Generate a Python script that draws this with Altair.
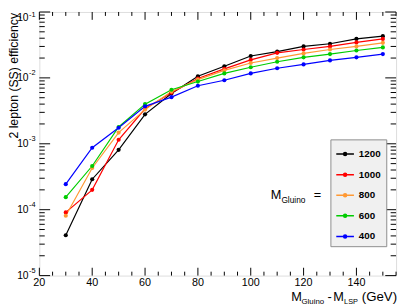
import altair as alt
import pandas as pd

FONT = "Liberation Sans"

# ---------------- data ----------------
mass_diff = [30, 40, 50, 60, 70, 80, 90, 100, 110, 120, 130, 140, 150]
series_names = ["1200", "1000", "800", "600", "400"]
series_colors = ["#000000", "#ff0000", "#ff9933", "#00cc00", "#0000ff"]
eff_1200 = [4.1e-5, 2.9e-4, 8.1e-4, 2.8e-3, 5.8e-3, 1.06e-2, 1.5e-2, 2.15e-2, 2.5e-2, 3.0e-2, 3.3e-2, 3.9e-2, 4.3e-2]
eff_1000 = [9.1e-5, 2.0e-4, 1.15e-3, 3.4e-3, 5.95e-3, 9.8e-3, 1.37e-2, 1.88e-2, 2.4e-2, 2.7e-2, 3.0e-2, 3.45e-2, 3.9e-2]
eff_800 = [8.1e-5, 4.3e-4, 1.48e-3, 3.3e-3, 6.2e-3, 9.4e-3, 1.3e-2, 1.68e-2, 2.0e-2, 2.35e-2, 2.7e-2, 3.0e-2, 3.4e-2]
eff_600 = [1.55e-4, 4.6e-4, 1.8e-3, 4.0e-3, 6.6e-3, 8.8e-3, 1.17e-2, 1.45e-2, 1.76e-2, 2.05e-2, 2.3e-2, 2.6e-2, 2.9e-2]
eff_400 = [2.44e-4, 8.7e-4, 1.75e-3, 3.7e-3, 5.1e-3, 7.6e-3, 9.2e-3, 1.17e-2, 1.4e-2, 1.6e-2, 1.84e-2, 2.05e-2, 2.3e-2]
all_eff = [eff_1200, eff_1000, eff_800, eff_600, eff_400]

x_major = [20, 40, 60, 80, 100, 120, 140]
x_labels = ["20", "40", "60", "80", "100", "120", "140"]
x_minor = [25, 30, 35, 45, 50, 55, 65, 70, 75, 85, 90, 95, 105, 110, 115, 125, 130, 135, 145, 150, 155]
y_exponents = [-5, -4, -3, -2, -1]
y_major = [1e-5, 1e-4, 1e-3, 1e-2, 1e-1]
y_minor_factors = [2, 3, 4, 5, 6, 7, 8, 9]

# ---------------- tables ----------------
rows = []
for name, vals in zip(series_names, all_eff):
    for xv, yv in zip(mass_diff, vals):
        rows.append({"dm": xv, "eff": yv, "mass": name})
df = pd.DataFrame(rows)

df_xmaj = pd.DataFrame({"v": x_major, "lab": x_labels})
df_xmin = pd.DataFrame({"v": x_minor})
df_ymaj = pd.DataFrame({"v": y_major, "base": ["10"] * len(y_major),
                        "exp": [str(e) for e in y_exponents]})
df_ylab_low = df_ymaj.iloc[:-1]
df_ylab_top = df_ymaj.iloc[-1:]
y_minor = [f * m for m in y_major[:-1] for f in y_minor_factors]
df_ymin = pd.DataFrame({"v": y_minor})

W, H = 364, 269
xs = alt.Scale(domain=[20, 155], nice=False, zero=False)
ys = alt.Scale(type="log", domain=[1e-5, 1e-1], nice=False)
cs = alt.Scale(domain=series_names, range=series_colors)

def xrule(d, y1, y2):
    return alt.Chart(d).mark_rule(color="black", strokeWidth=1).encode(
        x=alt.X("v:Q", scale=xs, axis=None), y=alt.value(y1), y2=alt.value(y2))

def yrule(d, x1, x2):
    return alt.Chart(d).mark_rule(color="black", strokeWidth=1).encode(
        y=alt.Y("v:Q", scale=ys, axis=None), x=alt.value(x1), x2=alt.value(x2))

ticks = [
    xrule(df_xmaj, H, H - 8), xrule(df_xmin, H, H - 4),
    xrule(df_xmaj, 0, 8), xrule(df_xmin, 0, 4),
    yrule(df_ymaj, 0, 11), yrule(df_ymin, 0, 5.5),
    yrule(df_ymaj, W, W - 11), yrule(df_ymin, W, W - 5.5),
]

legend_path = ("M-1,0L1,0M-0.17,0A0.17,0.17,0,1,0,0.17,0A0.17,0.17,0,1,0,-0.17,0Z"
               "M-0.07,0A0.07,0.07,0,1,0,0.07,0A0.07,0.07,0,1,0,-0.07,0Z")

lines = alt.Chart(df).mark_line(strokeWidth=1.2).encode(
    x=alt.X("dm:Q", scale=xs, axis=None),
    y=alt.Y("eff:Q", scale=ys, axis=None),
    color=alt.Color("mass:N", scale=cs, legend=alt.Legend(
        title=None, orient="none", legendX=297, legendY=130,
        fillColor="#f0f0f0", strokeColor="#8c8c8c", padding=5,
        symbolType=legend_path, symbolSize=324, symbolStrokeWidth=1.5,
        labelFont=FONT, labelFontWeight="bold", labelFontSize=10,
        labelColor="black", labelOffset=4, rowPadding=6)),
)
points = alt.Chart(df).mark_circle(size=18, opacity=1).encode(
    x=alt.X("dm:Q", scale=xs, axis=None),
    y=alt.Y("eff:Q", scale=ys, axis=None),
    color=alt.Color("mass:N", scale=cs, legend=None),
)

xlab = alt.Chart(df_xmaj).mark_text(font=FONT, fontSize=11, baseline="middle",
                                    align="center", color="black").encode(
    x=alt.X("v:Q", scale=xs, axis=None), y=alt.value(H + 8), text="lab:N")

def ylabels(d, shift, exp_shift):
    base = alt.Chart(d).mark_text(font=FONT, fontSize=10.5, baseline="middle",
                                  align="right", dy=shift, color="black").encode(
        y=alt.Y("v:Q", scale=ys, axis=None), x=alt.value(-11), text="base:N")
    exp = alt.Chart(d).mark_text(font=FONT, fontSize=7.5, baseline="middle",
                                 align="left", dy=exp_shift, color="black").encode(
        y=alt.Y("v:Q", scale=ys, axis=None), x=alt.value(-10.5), text="exp:N")
    return [base, exp]

def label(txt, x, y, size, align="left", angle=0):
    kw = dict(font=FONT, fontSize=size, align=align, baseline="alphabetic", color="black")
    if angle:
        kw["angle"] = angle
    return alt.Chart(pd.DataFrame({"t": [txt]})).mark_text(**kw).encode(
        x=alt.value(x), y=alt.value(y), text="t:N")

titles = [
    label("2 lepton (SS) efficiency", -22, 1, 12.5, align="right", angle=270),
    label("M", 257, 295, 13),
    label("Gluino", 267.5, 298, 8),
    label("-", 294, 295, 13),
    label("M", 300, 295, 13),
    label("LSP", 311, 298, 7.5),
    label("(GeV)", 365, 295, 13.5, align="right"),
    label("M", 236, 191, 13),
    label("Gluino", 247, 194.5, 8.5),
    label("=", 280, 191, 13),
]

chart = alt.layer(*ticks, lines, points, xlab,
                  *ylabels(df_ylab_low, 0, -4.5), *ylabels(df_ylab_top, 6, 3),
                  *titles).properties(
    width=W, height=H,
    padding={"left": 32, "top": 1, "right": 3, "bottom": 30},
    autosize=alt.AutoSizeParams(type="none"),
).configure_view(stroke="black", strokeWidth=1).configure(background="white")

chart.save("out.html", embed_options={"renderer": "svg", "actions": False})
